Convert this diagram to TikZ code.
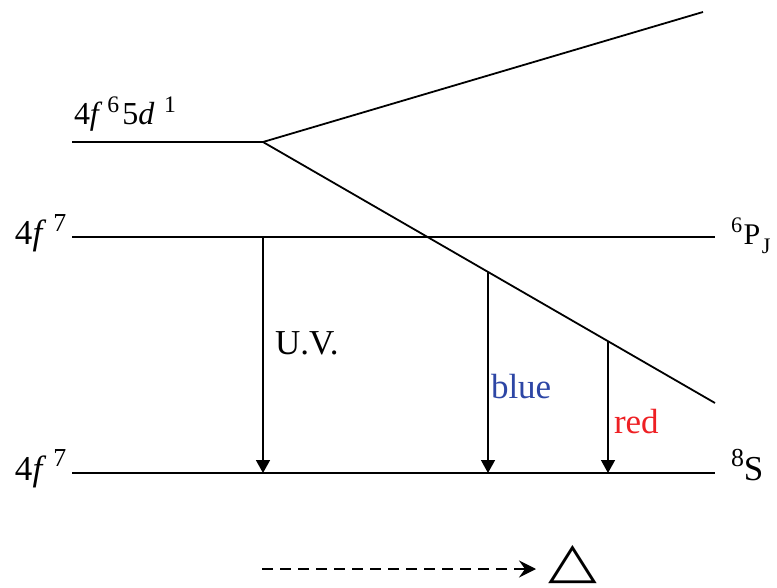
\documentclass[tikz,border=0pt]{standalone}
\usepackage{fontspec}
\setmainfont{Liberation Serif}
\newfontfamily\symfont{DejaVu Sans}
\usetikzlibrary{arrows.meta}
\definecolor{bluetxt}{RGB}{45,70,165}
\definecolor{redtxt}{RGB}{238,32,36}
\newcommand{\sups}[1]{\raisebox{0.40em}{\fontsize{0.74em}{0.8em}\selectfont #1}}
\begin{document}
\begin{tikzpicture}[x=1pt,y=-1pt,
  level/.style={line width=1.8pt},
  trans/.style={line width=1.5pt,-{Triangle[width=14pt,length=13pt]}},
  lbl/.style={anchor=base west,inner sep=0pt,outer sep=0pt},
  big/.style={font=\fontsize{35}{40}\selectfont}]
\useasboundingbox (0,0) rectangle (777,588);
% levels
\coordinate (dL) at (72,142);
\coordinate (dV) at (263,142);
\coordinate (dU) at (703,12);
\coordinate (dD) at (715,403);
\coordinate (pL) at (72,237);
\coordinate (pR) at (715,237);
\coordinate (sL) at (72,473);
\coordinate (sR) at (715,473);
\draw[level] (dL) -- (dV);
\draw[level] (dV) -- (dU);
\draw[level] (dV) -- (dD);
\draw[level] (pL) -- (pR);
\draw[level] (sL) -- (sR);
% transitions
\coordinate (uvT) at (263,237);
\coordinate (uvB) at (263,473);
\coordinate (blT) at (488,272);
\coordinate (blB) at (488,473);
\coordinate (rdT) at (608,342);
\coordinate (rdB) at (608,473);
\draw[trans] (uvT) -- (uvB);
\draw[trans] (blT) -- (blB);
\draw[trans] (rdT) -- (rdB);
% labels
\node[lbl,font=\fontsize{32}{36}\selectfont] (ld) at (74,125) {4\textit{f}\kern0.15em\sups{6}\kern0.1em5\textit{d}\kern0.3em\sups{1}};
\node[lbl,big] (lp) at (15,245) {4\textit{f}\kern0.2em\sups{7}};
\node[lbl,big] (ls) at (15,480) {4\textit{f}\kern0.2em\sups{7}};
\node[lbl,font=\fontsize{30}{34}\selectfont] (rp) at (731,245) {\sups{6}\kern0.05em P\kern0.05em\raisebox{-0.3em}{\fontsize{0.74em}{0.8em}\selectfont J}};
\node[lbl,big] (rs) at (731,480) {\sups{8}S};
\node[lbl,big] (uv) at (275,354) {U.V.};
\node[lbl,big,text=bluetxt] (bl) at (491,398) {blue};
\node[lbl,big,text=redtxt] (rd) at (614,433) {red};
% heating arrow
\coordinate (hA) at (262,569);
\node[lbl,font=\fontsize{50}{56}\selectfont\symfont,xscale=1.27] (tri) at (548,577) {△};
\draw[line width=1.6pt,dash pattern=on 11pt off 7pt,-{Stealth[length=17pt,width=17pt,inset=6pt]}] (hA) -- (536,569);
\end{tikzpicture}
\end{document}
